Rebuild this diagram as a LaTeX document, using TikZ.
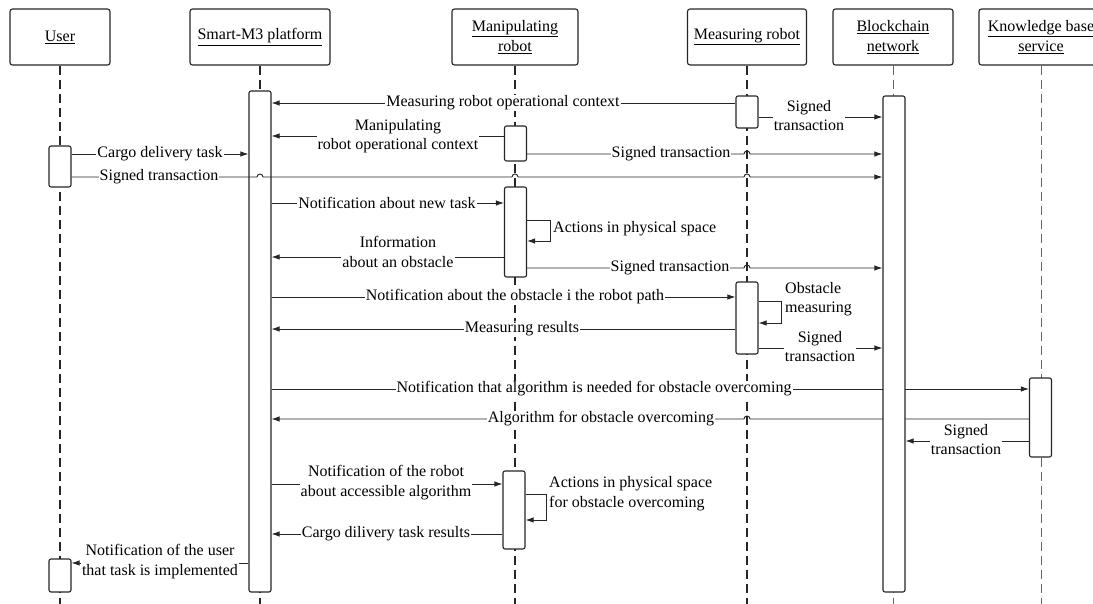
\documentclass[tikz,border=0pt]{standalone}
\usepackage{fontspec}
\setmainfont{Liberation Serif}
\usetikzlibrary{arrows.meta}
\pgfdeclarelayer{bg}
\pgfdeclarelayer{fg}
\pgfsetlayers{bg,main,fg}
\begin{document}
\begin{tikzpicture}[x=1pt,y=-1pt,
  every node/.style={font=\fontsize{16}{19.5}\selectfont, text=black},
  head/.style={draw=black!85, line width=1.1pt, rounded corners=2.5pt, minimum height=56pt, inner sep=0pt, align=center},
  bar/.style={draw=black!85, line width=1.1pt, fill=white, rounded corners=2pt, minimum width=22pt, inner sep=0pt},
  life/.style={draw=black!85, line width=1.3pt, dash pattern=on 9pt off 5pt},
  lifel/.style={draw=black!60, line width=0.9pt, dash pattern=on 9pt off 5pt},
  msg/.style={draw=black!85, line width=0.9pt, -{Latex[length=8pt,width=5.5pt]}},
  lbl/.style={fill=white, inner xsep=1pt, inner ysep=0.5pt, align=center},
  note/.style={inner sep=0pt, align=left, anchor=west}]
\path[use as bounding box] (0,0) rectangle (1093,604);
\clip (0,0) rectangle (1093,604);

% headers
\node[head, minimum width=100pt] (uh) at (60,37) {\underline{User}};
\node[head, minimum width=140pt] (sh) at (260,37) {\underline{Smart-M3 platform}};
\node[head, minimum width=126pt] (mh) at (515,37) {\underline{Manipulating}\\\underline{robot}};
\node[head, minimum width=119pt] (rh) at (747,37) {\underline{Measuring robot}};
\node[head, minimum width=120pt] (bh) at (893,37) {\underline{Blockchain}\\\underline{network}};
\node[head, minimum width=124pt] (kh) at (1041,37) {\underline{Knowledge base}\\\underline{service}};

% lifelines
\begin{pgfonlayer}{bg}
\fill[white] (0,0) rectangle (1093,604);
\draw[life] (uh.south) -- (uh.south |- 0,604);
\draw[life] (sh.south) -- (sh.south |- 0,604);
\draw[life] (mh.south) -- (mh.south |- 0,604);
\draw[life] (rh.south) -- (rh.south |- 0,604);
\draw[lifel] (bh.south) -- (bh.south |- 0,604);
\draw[lifel] (kh.south) -- (kh.south |- 0,604);
\end{pgfonlayer}

% activation bars
\node[bar, minimum height=501pt] (sb) at (260,341.5) {};
\node[bar, minimum height=41pt] (ub1) at (60,166.5) {};
\node[bar, minimum height=33pt] (ub2) at (60,575.5) {};
\node[bar, minimum height=35pt] (mb1) at (515.5,143.5) {};
\node[bar, minimum height=90pt] (mb2) at (515.5,232) {};
\node[bar, minimum height=78pt] (mb3) at (514,510) {};
\node[bar, minimum height=32pt] (rb1) at (747,112) {};
\node[bar, minimum height=72pt] (rb2) at (747,318) {};
\node[bar, minimum height=79pt] (kb) at (1040.5,417.5) {};
\begin{pgfonlayer}{fg}
\node[bar, minimum height=496pt] (bb) at (894,344) {};
\end{pgfonlayer}

% messages
\draw[msg] (rb1.west |- 0,103) -- (sb.east |- 0,103);
\node[lbl] (t1) at (503,103) {Measuring robot operational context};

\draw[msg] (rb1.east |- 0,117) -- (bb.west |- 0,117);
\node[lbl] (t2) at (809,115.5) {Signed\\transaction};

\draw[msg] (mb1.west |- 0,136) -- (sb.east |- 0,136);
\node[lbl] (t3) at (398,136) {Manipulating\\robot operational context};

\draw[msg] (mb1.east |- 0,154) -- (744,154) arc(180:360:3) -- (bb.west |- 0,154);
\node[lbl] (t4) at (671,154) {Signed transaction};

\draw[msg] (ub1.east |- 0,154) -- (sb.west |- 0,154);
\node[lbl] (t5) at (160,154) {Cargo delivery task};

\draw[msg] (ub1.east |- 0,177) -- (257,177) arc(180:360:3) -- (512,177) arc(180:360:3) -- (744,177) arc(180:360:3) -- (bb.west |- 0,177);
\node[lbl] (t6) at (159,177) {Signed transaction};

\draw[msg] (sb.east |- 0,203) -- (mb2.west |- 0,203);
\node[lbl] (t7) at (387,203) {Notification about new task};

\draw[msg] (mb2.east |- 0,220) -- (550,220) -- (550,241) -- (mb2.east |- 0,241);
\node[note] (t8) at (553,229) {Actions in physical space};

\draw[msg] (mb2.west |- 0,257) -- (sb.east |- 0,257);
\node[lbl] (t9) at (398,252) {Information\\about an obstacle};

\draw[msg] (mb2.east |- 0,268) -- (744,268) arc(180:360:3) -- (bb.west |- 0,268);
\node[lbl] (t10) at (670,268) {Signed transaction};

\draw[msg] (sb.east |- 0,297) -- (rb2.west |- 0,297);
\node[lbl] (t11) at (515,297) {Notification about the obstacle i the robot path};

\draw[msg] (rb2.east |- 0,301) -- (781,301) -- (781,323) -- (rb2.east |- 0,323);
\node[note] (t12) at (785,299) {Obstacle\\measuring};

\draw[msg] (rb2.west |- 0,329) -- (sb.east |- 0,329);
\node[lbl] (t13) at (522,329) {Measuring results};

\draw[msg] (rb2.east |- 0,348) -- (bb.west |- 0,348);
\node[lbl] (t14) at (820,346.5) {Signed\\transaction};

\draw[msg] (sb.east |- 0,389) -- (kb.west |- 0,389);
\node[lbl] (t15) at (594,389) {Notification that algorithm is needed for obstacle overcoming};

\draw[msg] (kb.west |- 0,419) -- (750,419) arc(0:-180:3) -- (sb.east |- 0,419);
\node[lbl] (t16) at (601,419) {Algorithm for obstacle overcoming};

\draw[msg] (kb.west |- 0,441) -- (bb.east |- 0,441);
\node[lbl] (t17) at (966,439.5) {Signed\\transaction};

\draw[msg] (sb.east |- 0,484) -- (mb3.west |- 0,484);
\node[lbl] (t18) at (386,482.5) {Notification of the robot\\about accessible algorithm};

\draw[msg] (mb3.east |- 0,494) -- (546,494) -- (546,520) -- (mb3.east |- 0,520);
\node[note] (t19) at (549,493.5) {Actions in physical space\\for obstacle overcoming};

\draw[msg] (mb3.west |- 0,534) -- (sb.east |- 0,534);
\node[lbl] (t20) at (386,534) {Cargo dilivery task results};

\draw[msg] (sb.west |- 0,563) -- (ub2.east |- 0,563);
\node[lbl] (t21) at (160,561.5) {Notification of the user\\that task is implemented};
\end{tikzpicture}
\end{document}
